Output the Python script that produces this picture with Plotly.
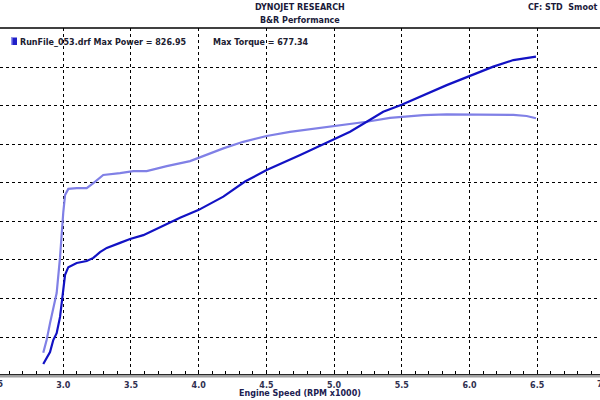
import plotly.graph_objects as go

# Engine speed (RPM x1000) and readings
power_rpm = [2.852, 2.902, 2.926, 2.951, 2.976, 3.000, 3.013, 3.037, 3.099, 3.173, 3.222,
             3.271, 3.321, 3.419, 3.493, 3.591, 3.714, 3.862, 3.997, 4.182, 4.342, 4.502,
             4.750, 4.994, 5.118, 5.241, 5.363, 5.499, 5.659, 5.832, 6.004, 6.176, 6.324,
             6.422, 6.491]
power_val = [30, 61, 92, 110, 152, 235, 261, 281, 292, 297, 305,
             320, 331, 344, 354, 364, 385, 409, 429, 464, 503, 533,
             572, 611, 632, 658, 684, 702, 727, 753, 777, 801, 818,
             824, 827]

torque_rpm = [2.852, 2.877, 2.902, 2.951, 2.976, 2.990, 3.000, 3.013, 3.037, 3.099, 3.173,
              3.222, 3.295, 3.419, 3.517, 3.616, 3.764, 3.936, 4.059, 4.182, 4.329, 4.502,
              4.674, 4.871, 4.994, 5.118, 5.241, 5.413, 5.499, 5.659, 5.832, 6.004, 6.176,
              6.324, 6.422, 6.491]
torque_val = [59, 92, 136, 214, 307, 390, 424, 468, 484, 486, 486,
              499, 520, 525, 530, 530, 543, 556, 572, 589, 606, 621,
              632, 641, 645, 652, 658, 668, 671, 675, 677, 677, 677,
              676, 673, 667]

x_tick_vals = [3.0, 3.5, 4.0, 4.5, 5.0, 5.5, 6.0, 6.5]
x_tick_text = ["3.0", "3.5", "4.0", "4.5", "5.0", "5.5", "6.0", "6.5"]
y_grid_vals = [100, 200, 300, 400, 500, 600, 700, 800]

W, H = 600, 400
TOP, BOT = 28, 374
PH = BOT - TOP


def py(p):
    return (BOT - p) / PH


def px(p):
    return p / W


fig = go.Figure()
fig.add_trace(go.Scatter(x=torque_rpm, y=torque_val, mode="lines",
                         line=dict(color="#8080E6", width=2.2), name="Torque",
                         showlegend=False, hoverinfo="skip"))
fig.add_trace(go.Scatter(x=power_rpm, y=power_val, mode="lines",
                         line=dict(color="#1212C4", width=2.2), name="Power",
                         showlegend=False, hoverinfo="skip"))

font_main = "DejaVu Sans"

fig.update_layout(
    width=W, height=H,
    margin=dict(l=0, r=0, t=TOP, b=H - BOT, pad=0),
    paper_bgcolor="white", plot_bgcolor="white",
    font=dict(family=font_main, size=8, color="#202040"),
    xaxis=dict(range=[2.5325, 6.964], tickvals=x_tick_vals, ticktext=x_tick_text,
               showgrid=True, gridcolor="#000000", gridwidth=1, griddash="3px,3px",
               ticks="inside", ticklen=3, tickcolor="#000000",
               minor=dict(dtick=0.1, tick0=2.5, ticks="inside", ticklen=3, tickcolor="#000000", showgrid=False),
               showline=True, linecolor="#000000", linewidth=1,
               tickfont=dict(family=font_main, size=8, color="#303050", weight="bold"),
               ticklabelstandoff=3,
               zeroline=False, fixedrange=True),
    yaxis=dict(range=[4.07, 901.1], tickvals=y_grid_vals, showticklabels=False,
               showgrid=True, gridcolor="#000000", gridwidth=1, griddash="3px,3px",
               showline=False, zeroline=False, ticks="", fixedrange=True),
)

shapes = [
    # top rule
    dict(type="line", xref="paper", yref="paper", x0=0, x1=1, y0=1, y1=1,
         line=dict(color="#000000", width=1.5)),
    # grey band below the axis
    dict(type="rect", xref="paper", yref="paper", x0=0, x1=1, y0=py(377.5), y1=py(374.8),
         fillcolor="#A0A0A0", line=dict(width=0)),
    # legend icon
    dict(type="rect", xref="paper", yref="paper", x0=px(11), x1=px(17), y0=py(45), y1=py(37.5),
         fillcolor="#2020C8", line=dict(width=0)),
    dict(type="rect", xref="paper", yref="paper", x0=px(11), x1=px(12.5), y0=py(45), y1=py(37.5),
         fillcolor="#9090F0", line=dict(width=0)),
]
fig.update_layout(shapes=shapes)

ann = []


def text(t, x, y, anchor="left", size=8, color="#202040"):
    ann.append(dict(text=t, xref="paper", yref="paper", x=px(x), y=py(y),
                    xanchor=anchor, yanchor="middle", showarrow=False,
                    font=dict(family=font_main, size=size, color=color, weight="bold")))


text("DYNOJET RESEARCH", 300, 8, "center", 8, "#1A1A3A")
text("B&amp;R Performance", 300, 20, "center", 8, "#1A1A3A")
text("CF: STD  Smoot", 599, 8, "right", 8, "#1A1A3A")
text("RunFile_053.drf Max Power = 826.95", 18, 42, "left", 8, "#202030")
text("Max Torque = 677.34", 211, 42, "left", 8, "#202030")
text("Engine Speed (RPM x1000)", 300, 393, "center", 8, "#202050")
text("2.5", -4, 384, "center", 8, "#303050")
text("7.0", 604, 384, "center", 8, "#303050")
fig.update_layout(annotations=ann)

fig.write_html(
    "out.html",
    config={"displayModeBar": False, "staticPlot": True},
    post_script="document.body.style.margin='0';document.body.style.padding='0';"
                "document.body.style.overflow='hidden';",
)
